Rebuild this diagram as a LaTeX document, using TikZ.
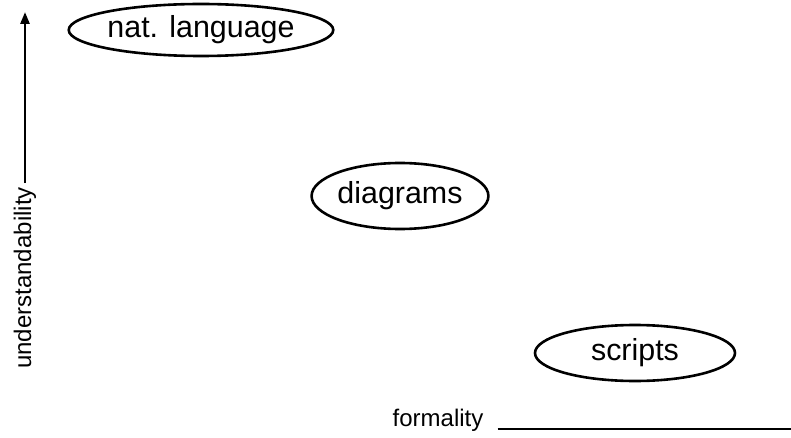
\documentclass[tikz,border=0pt]{standalone}
\usepackage{fontspec}
\setmainfont{Liberation Sans}
\usetikzlibrary{shapes.geometric,arrows.meta}
\begin{document}
\begin{tikzpicture}[x=1pt,y=-1pt,
  ell/.style={ellipse, draw, line width=2.6pt, inner sep=0pt, font=\fontsize{30.4}{36}\selectfont},
  axlabel/.style={font=\fontsize{24}{28}\selectfont},
  axis/.style={line width=2.6pt}]
\useasboundingbox (0,0) rectangle (791,438);
\node[ell, minimum width=258pt, minimum height=52pt] (nat) at (201,30) {nat. language};
\node[ell, minimum width=174pt, minimum height=66pt] (dia) at (400,196) {diagrams};
\node[ell, minimum width=200pt, minimum height=56pt] (scr) at (635,353) {scripts};
\node[axlabel, rotate=90, inner sep=4pt] (ylab) at (25,278) {understandability};
\coordinate (ytip) at (24,12);
\draw[axis, -{Triangle[length=12pt,width=9pt]}] (ylab.east) -- (ylab.east |- ytip);
\node[axlabel, anchor=base, inner xsep=14pt] (xlab) at (438,426) {formality};
\coordinate (xend) at (791,429);
\draw[axis] (xlab.east |- xend) -- (xend);
\end{tikzpicture}
\end{document}
